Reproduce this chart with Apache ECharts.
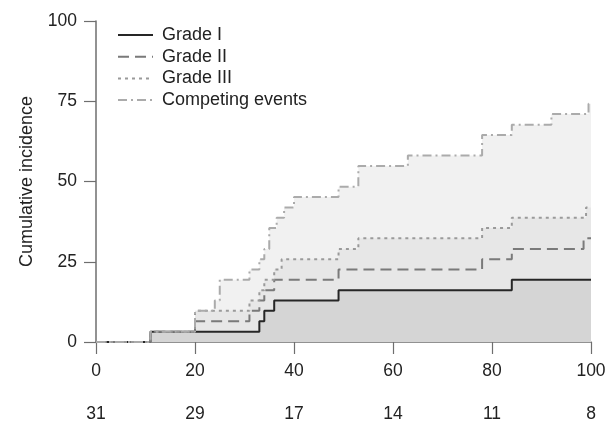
<!DOCTYPE html>
<html>
<head>
<meta charset="utf-8">
<script src="https://cdn.jsdelivr.net/npm/echarts@6/dist/echarts.min.js"></script>
<style>
  html, body { margin: 0; padding: 0; background: #fff; }
  #chart { width: 614px; height: 423px; }
</style>
</head>
<body>
<div id="chart"></div>
<script>
// step times (days) and cumulative incidence (%)
const gradeIDays = [0, 11, 33, 34, 36, 49, 84, 100];
const gradeIVals = [0, 3.2, 6.5, 9.7, 12.9, 16.1, 19.4, 19.4];

const gradeIIDays = [0, 11, 20, 31, 33, 34, 36, 49, 78, 84, 98.5, 100];
const gradeIIVals = [0, 3.2, 6.5, 9.7, 12.9, 16.1, 19.4, 22.6, 25.8, 29.0, 32.3, 32.3];

const gradeIIIDays = [0, 11, 20, 31, 33, 34, 36, 37.5, 49, 53, 78, 84, 99, 100];
const gradeIIIVals = [0, 3.2, 9.7, 12.9, 16.1, 19.4, 22.6, 25.8, 29.0, 32.3, 35.5, 38.7, 41.9, 41.9];

const compDays = [0, 11, 20, 24, 25, 31, 33, 34, 35, 36.5, 38, 40, 49, 53, 63, 78, 84, 92, 99.5, 100];
const compVals = [0, 3.2, 9.7, 12.9, 19.4, 22.6, 25.8, 29.0, 35.5, 38.7, 41.9, 45.2, 48.4, 54.8, 58.1, 64.5, 67.7, 71.0, 74.2, 74.2];

const xTicks = [0, 20, 40, 60, 80, 100];
const atRisk = [31, 29, 17, 14, 11, 8];

function pairs(days, vals) {
  return days.map((d, i) => [d, vals[i]]);
}

const chart = echarts.init(document.getElementById('chart'), null, { renderer: 'canvas' });

const font = 'Liberation Sans, Arial, Helvetica, sans-serif';
const axisCol = '#6e6e6e';

function areaSeries(data, color) {
  return {
    type: 'line',
    step: 'end',
    data: data,
    symbol: 'none',
    silent: true,
    lineStyle: { width: 0 },
    areaStyle: { color: color, opacity: 1 },
    z: 1
  };
}

function lineSeries(name, data, color, dash, z) {
  return {
    name: name,
    type: 'line',
    step: 'end',
    data: data,
    symbol: 'none',
    itemStyle: { color: color },
    lineStyle: { color: color, width: 2, type: dash },
    z: z
  };
}

const option = {
  animation: false,
  backgroundColor: '#fff',
  grid: { left: 96, right: 23, top: 21, bottom: 80 },
  legend: {
    data: ['Grade I', 'Grade II', 'Grade III', 'Competing events'],
    orient: 'vertical',
    left: 112,
    top: 21,
    itemWidth: 35,
    itemHeight: 14,
    itemGap: 3.7,
    itemStyle: { opacity: 0 },
    textStyle: { fontFamily: font, fontSize: 18, color: '#222', padding: [0, 0, 0, 4] }
  },
  xAxis: [
    {
      type: 'value',
      min: 0, max: 100, interval: 20,
      name: 'Days since Tx',
      nameLocation: 'end',
      nameGap: -1,
      nameTextStyle: {
        fontFamily: font, fontSize: 16, color: '#222',
        align: 'right', verticalAlign: 'bottom', padding: [0, 0, 3, 0]
      },
      axisLine: { onZero: false, lineStyle: { color: axisCol, width: 1.5 } },
      axisTick: { length: 12, lineStyle: { color: axisCol, width: 1.2 } },
      axisLabel: { margin: 20, fontFamily: font, fontSize: 17.5, color: '#222' },
      splitLine: { show: false }
    },
    {
      type: 'value',
      position: 'bottom',
      offset: 43,
      min: 0, max: 100, interval: 20,
      axisLine: { show: false },
      axisTick: { show: false },
      axisLabel: {
        margin: 20, fontFamily: font, fontSize: 17.5, color: '#222',
        formatter: v => { const i = xTicks.indexOf(v); return i >= 0 ? String(atRisk[i]) : ''; }
      },
      splitLine: { show: false }
    }
  ],
  yAxis: {
    type: 'value',
    min: 0, max: 100, interval: 25,
    name: 'Cumulative incidence',
    nameLocation: 'middle',
    nameGap: 60,
    nameRotate: 90,
    nameTextStyle: { fontFamily: font, fontSize: 18, color: '#222' },
    axisLine: { show: true, onZero: false, lineStyle: { color: axisCol, width: 1.5 } },
    axisTick: { show: true, length: 12, lineStyle: { color: axisCol, width: 1.2 } },
    axisLabel: { margin: 19, fontFamily: font, fontSize: 17.5, color: '#222' },
    splitLine: { show: false }
  },
  series: [
    areaSeries(pairs(compDays, compVals), '#f1f1f1'),
    areaSeries(pairs(gradeIIIDays, gradeIIIVals), '#e7e7e7'),
    areaSeries(pairs(gradeIDays, gradeIVals), '#d5d5d5'),
    lineSeries('Grade I', pairs(gradeIDays, gradeIVals), '#262626', 'solid', 3),
    lineSeries('Grade II', pairs(gradeIIDays, gradeIIVals), '#7a7a7a', [11, 6], 4),
    lineSeries('Grade III', pairs(gradeIIIDays, gradeIIIVals), '#9a9a9a', [3, 4], 5),
    lineSeries('Competing events', pairs(compDays, compVals), '#ababab', [9, 4, 2, 4], 6)
  ]
};

chart.setOption(option);
</script>
</body>
</html>
